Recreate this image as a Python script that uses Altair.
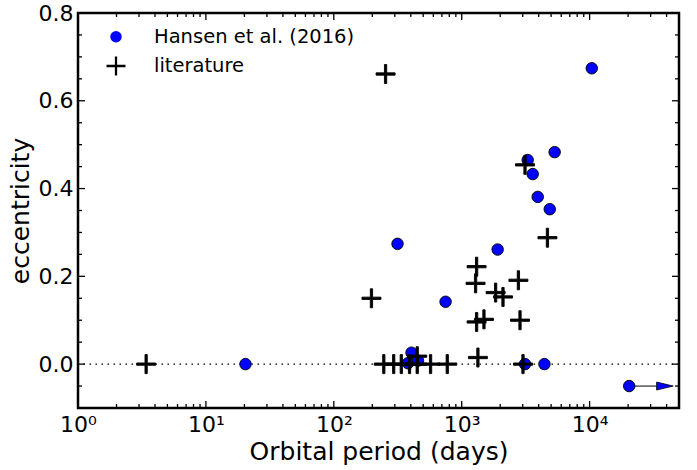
import altair as alt
import pandas as pd

# ---- data ----
series_names = ["Hansen et al. (2016)", "literature"]

hansen_period = [20.4, 315, 748, 1910, 3280, 3590, 3930, 4880, 5330, 10400,
                 3125, 4433, 380, 405, 455, 20400]
hansen_ecc = [0.0, 0.274, 0.142, 0.261, 0.465, 0.433, 0.381, 0.353, 0.483, 0.674,
              0.0, 0.0, 0.002, 0.026, 0.008, -0.05]

lit_period = [3.41, 254, 197, 1308, 1284, 2775, 1842, 2103, 1308, 1493, 2857,
              1339, 3015, 3126, 4680, 246, 294, 337, 391, 449, 571, 771, 449]
lit_ecc = [0.0, 0.661, 0.150, 0.222, 0.184, 0.191, 0.163, 0.153, 0.096, 0.102, 0.100,
           0.015, 0.0, 0.454, 0.288, 0.0, 0.0, 0.0, 0.0, 0.0, 0.0, 0.0, 0.018]

arrow_start = 20400
arrow_head = 38800
arrow_ecc = -0.05

x_major = [1, 10, 100, 1000, 10000]
x_minor = [2, 3, 4, 5, 6, 7, 8, 9,
           20, 30, 40, 50, 60, 70, 80, 90,
           200, 300, 400, 500, 600, 700, 800, 900,
           2000, 3000, 4000, 5000, 6000, 7000, 8000, 9000,
           20000, 30000, 40000]
y_major = [0.0, 0.2, 0.4, 0.6, 0.8]
y_minor = [-0.05, 0.05, 0.1, 0.15, 0.25, 0.3, 0.35, 0.45, 0.5, 0.55, 0.65, 0.7, 0.75]

W, H = 601, 395
FONT = "DejaVu Sans"
MAJ, MIN = 7, 4

PLUS = ("M-1,-0.12L-0.12,-0.12L-0.12,-1L0.12,-1L0.12,-0.12L1,-0.12L1,0.12"
        "L0.12,0.12L0.12,1L-0.12,1L-0.12,0.12L-1,0.12Z")
TRI = "M-1,-0.48L1,0L-1,0.48Z"

xs = alt.Scale(type="log", domain=[1, 50000], nice=False)
ys = alt.Scale(domain=[-0.1, 0.8], nice=False)

label_expr = ("datum.value == 1 ? '10⁰' : datum.value == 10 ? '10¹' : "
              "datum.value == 100 ? '10²' : datum.value == 1000 ? '10³' : '10⁴'")

XAXIS = alt.Axis(values=x_major, labelExpr=label_expr, ticks=False, domain=False,
                 grid=False, labelFont=FONT, labelFontSize=22, labelColor="black",
                 labelPadding=6, title="Orbital period (days)", titleFont=FONT,
                 titleFontSize=25, titleFontWeight="normal", titleColor="black",
                 titlePadding=4, labelFlush=False)
YAXIS = alt.Axis(values=y_major, format=".1f", ticks=False, domain=False, grid=False,
                 labelFont=FONT, labelFontSize=22, labelColor="black", labelPadding=5,
                 title="eccentricity", titleFont=FONT, titleFontSize=25,
                 titleFontWeight="normal", titleColor="black", titlePadding=5,
                 labelFlush=False)


def X(field):
    return alt.X(field, scale=xs, axis=XAXIS, title="Orbital period (days)")


def Y(field):
    return alt.Y(field, scale=ys, axis=YAXIS, title="eccentricity")


pts = pd.DataFrame({
    "period": hansen_period + lit_period,
    "ecc": hansen_ecc + lit_ecc,
    "series": [series_names[0]] * len(hansen_period) + [series_names[1]] * len(lit_period),
})

leg = dict(title=None, orient="none", legendX=28, legendY=14, labelFont=FONT,
           labelFontSize=19.5, labelColor="black", labelOffset=28, rowPadding=7,
           labelLimit=0, symbolStrokeColor="black", symbolStrokeWidth=0.9, padding=0)

points = alt.Chart(pts).mark_point(filled=True, strokeWidth=0.9, opacity=1).encode(
    x=X("period:Q"),
    y=Y("ecc:Q"),
    shape=alt.Shape("series:N", scale=alt.Scale(domain=series_names, range=["circle", PLUS]),
                    legend=alt.Legend(**leg)),
    fill=alt.Fill("series:N", scale=alt.Scale(domain=series_names, range=["#0000ff", "#000000"]),
                  legend=alt.Legend(**leg)),
    size=alt.Size("series:N", scale=alt.Scale(domain=series_names, range=[132, 361]),
                  legend=alt.Legend(**leg)),
    stroke=alt.value("black"),
)

zero = alt.Chart(pd.DataFrame({"y": [0.0]})).mark_rule(
    color="black", strokeWidth=1.2, strokeDash=[1.5, 4.5]).encode(y=Y("y:Q"))

arrow_df = pd.DataFrame({"x0": [arrow_start], "x1": [arrow_head], "y": [arrow_ecc]})
arrow_line = alt.Chart(arrow_df).mark_rule(color="black", strokeWidth=1).encode(
    x=X("x0:Q"), x2="x1:Q", y=Y("y:Q"))
arrow_tip = alt.Chart(arrow_df).mark_point(
    shape=TRI, filled=True, fill="#0000ff", strokeWidth=0.8,
    size=276, opacity=1).encode(x=X("x1:Q"), y=Y("y:Q"), stroke=alt.value("black"))


def xticks(vals, length, top):
    d = pd.DataFrame({"v": vals})
    if top:
        yy, yy2 = alt.value(0), alt.value(length)
    else:
        yy, yy2 = alt.value(H), alt.value(H - length)
    return alt.Chart(d).mark_rule(color="black", strokeWidth=1.3).encode(
        x=X("v:Q"), y=yy, y2=yy2)


def yticks(vals, length, right):
    d = pd.DataFrame({"v": vals})
    if right:
        xx, xx2 = alt.value(W), alt.value(W - length)
    else:
        xx, xx2 = alt.value(0), alt.value(length)
    return alt.Chart(d).mark_rule(color="black", strokeWidth=1.3).encode(
        y=Y("v:Q"), x=xx, x2=xx2)


ticks = [xticks(x_major, MAJ, False), xticks(x_major, MAJ, True),
         xticks(x_minor, MIN, False), xticks(x_minor, MIN, True),
         yticks(y_major, MAJ, False), yticks(y_major, MAJ, True),
         yticks(y_minor, MIN, False), yticks(y_minor, MIN, True)]

chart = alt.layer(zero, arrow_line, points, arrow_tip, *ticks).properties(
    width=W, height=H,
    padding={"left": 78, "top": 13, "right": 18, "bottom": 62},
    autosize=alt.AutoSizeParams(type="none"),
    background="white",
).configure_view(stroke="black", strokeWidth=2.5)

chart.save("out.html", embed_options={"renderer": "svg", "actions": False})
